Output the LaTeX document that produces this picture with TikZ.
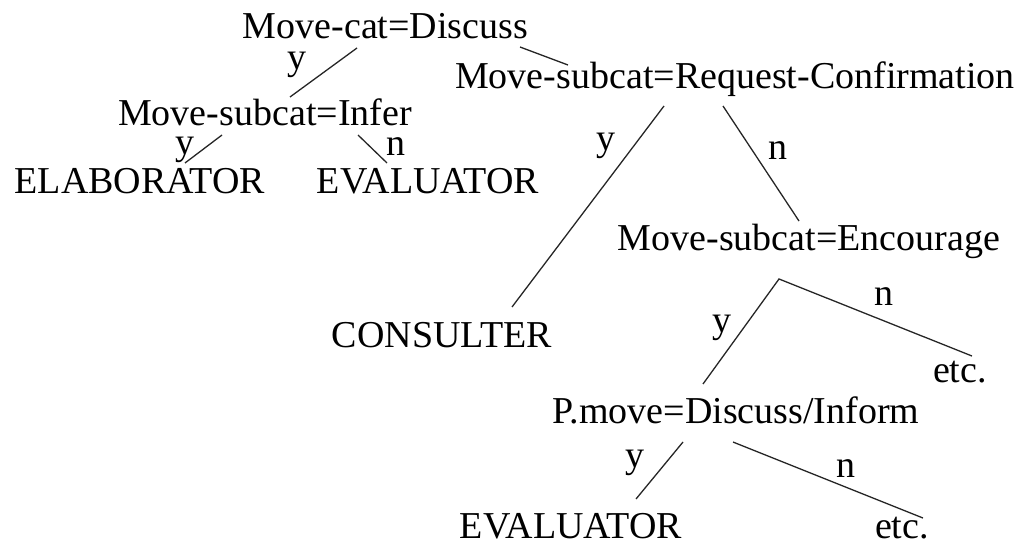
\documentclass[tikz,border=0pt]{standalone}
\usepackage{fontspec}
\setmainfont{Liberation Serif}
\begin{document}
\begin{tikzpicture}[x=1pt,y=-1pt,
  lbl/.style={anchor=base,inner sep=0pt,font=\fontsize{38}{40}\selectfont},
  edge/.style={line width=1.3pt,draw=black!85}]
\useasboundingbox (0,0) rectangle (1021,546);
% nodes
\node[lbl] (mc) at (385.5,38) {Move-cat=Discuss};
\node[lbl] (rc) at (735,88) {Move-subcat=Request-Confirmation};
\node[lbl] (inf) at (265,125) {Move-subcat=Infer};
\node[lbl] (elab) at (140,193) {ELABORATOR};
\node[lbl] (eva) at (428,193) {EVALUATOR};
\node[lbl] (enc) at (809,250) {Move-subcat=Encourage};
\node[lbl] (cons) at (442,347) {CONSULTER};
\node[lbl] (etca) at (960,382) {etc.};
\node[lbl] (pm) at (736,423) {P.move=Discuss/Inform};
\node[lbl] (evb) at (571,538) {EVALUATOR};
\node[lbl] (etcb) at (902,538) {etc.};
\coordinate (apex) at (779,279);
% branch labels
\node[lbl] (y1) at (297,69) {y};
\node[lbl] (y2) at (185,154) {y};
\node[lbl] (n2) at (396,155) {n};
\node[lbl] (y3) at (606,150) {y};
\node[lbl] (n3) at (778,159) {n};
\node[lbl] (y4) at (722,332) {y};
\node[lbl] (n4) at (884,305) {n};
\node[lbl] (y5) at (635,467) {y};
\node[lbl] (n5) at (846,477) {n};
% connectors
\draw[edge] ([shift={(-28.5,10)}]mc.base) -- ([shift={(25,-28)}]inf.base);
\draw[edge] ([shift={(134.5,9)}]mc.base) -- ([shift={(-167,-23)}]rc.base);
\draw[edge] ([shift={(-43,10)}]inf.base) -- ([shift={(45,-30)}]elab.base);
\draw[edge] ([shift={(93,10)}]inf.base) -- ([shift={(-41,-30)}]eva.base);
\draw[edge] ([shift={(-71,18)}]rc.base) -- ([shift={(70,-40)}]cons.base);
\draw[edge] ([shift={(-12,18)}]rc.base) -- ([shift={(-10,-29)}]enc.base);
\draw[edge] ([shift={(-33,-39)}]pm.base) -- (apex) -- ([shift={(12,-26)}]etca.base);
\draw[edge] ([shift={(-53,19)}]pm.base) -- ([shift={(65,-39)}]evb.base);
\draw[edge] ([shift={(-3,19)}]pm.base) -- ([shift={(21,-20)}]etcb.base);
\end{tikzpicture}
\end{document}
